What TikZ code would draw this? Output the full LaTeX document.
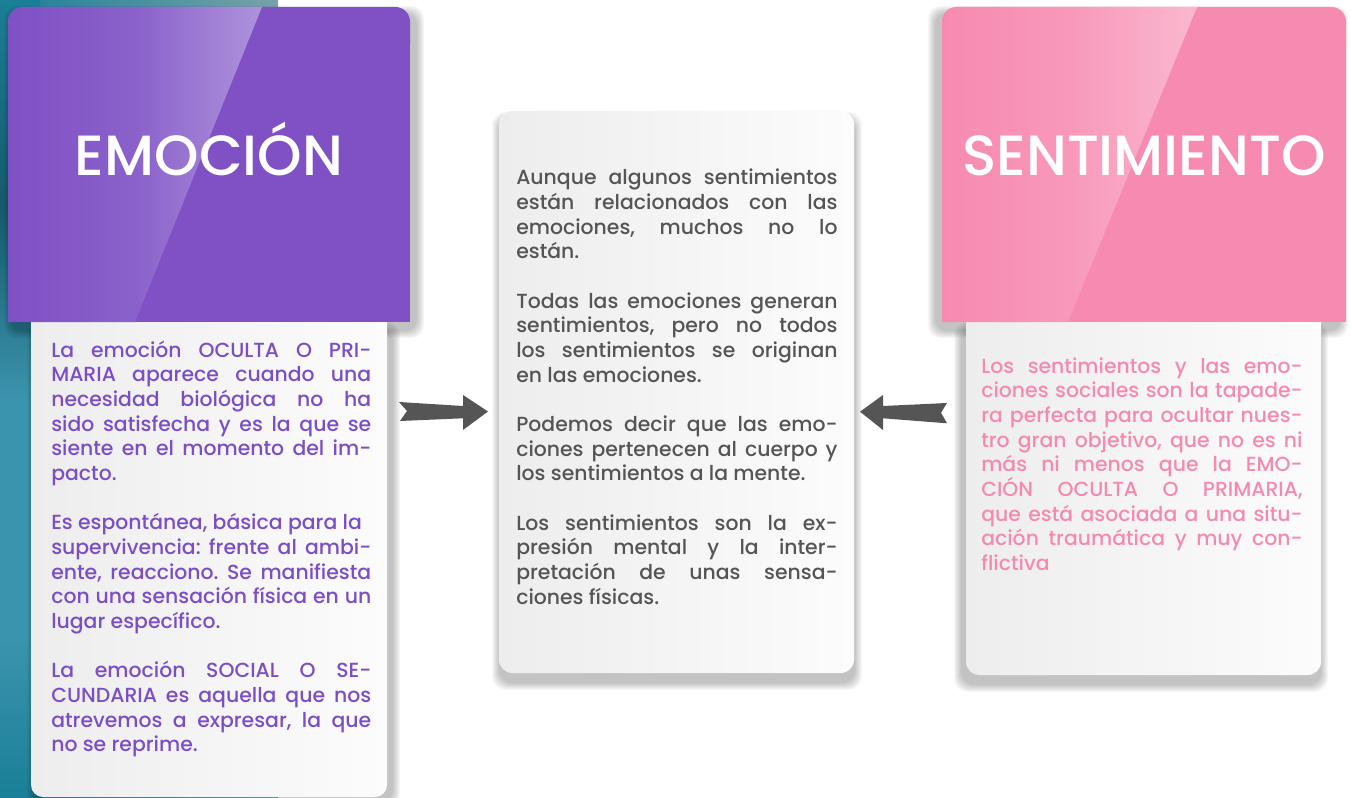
\documentclass[tikz,border=0pt]{standalone}
\usepackage{fontspec}
\setmainfont{Poppins}
\newfontfamily\bodyf{Poppins}[UprightFont={* Medium}]
\newfontfamily\headf{Poppins}[UprightFont={* Medium}]
\usetikzlibrary{calc}
\frenchspacing
\definecolor{hdrP}{HTML}{7F51C5}
\definecolor{hdrPmid}{HTML}{8A61CA}
\definecolor{hdrPl}{HTML}{AE93DC}
\definecolor{hdrK}{HTML}{F78AB0}
\definecolor{hdrKmid}{HTML}{F898BA}
\definecolor{hdrKl}{HTML}{FAB8CF}
\definecolor{txtP}{HTML}{7B4EC6}
\definecolor{txtK}{HTML}{F48AB0}
\definecolor{txtG}{HTML}{555555}
\definecolor{arrC}{HTML}{555555}
\definecolor{boxL}{HTML}{EDEDED}
\definecolor{boxR}{HTML}{FCFCFC}
\definecolor{tealA}{HTML}{1A7F98}
\definecolor{tealB}{HTML}{2A6274}
\definecolor{tealC}{HTML}{78A2A8}
\definecolor{tealD}{HTML}{15596B}
\definecolor{tealE}{HTML}{3B94AE}
\pgfdeclarehorizontalshading{glossP}{100bp}{color(0bp)=(hdrP); color(25bp)=(hdrP); color(50bp)=(hdrPmid); color(75bp)=(hdrPl); color(100bp)=(hdrPl)}
\pgfdeclarehorizontalshading{glossK}{100bp}{color(0bp)=(hdrK); color(25bp)=(hdrK); color(50bp)=(hdrKmid); color(75bp)=(hdrKl); color(100bp)=(hdrKl)}
\pgfdeclareverticalshading{tealV}{100bp}{color(0bp)=(tealA); color(25bp)=(tealA); color(35bp)=(tealE); color(50bp)=(tealE); color(62bp)=(tealD); color(75bp)=(tealA); color(100bp)=(tealA)}
\newcommand\softshadow[5]{%
  \foreach \k in {1,...,8}{%
    \fill[black, opacity=0.03, rounded corners=#5]
      (#1-\k, #2-\k) rectangle (#3+\k, #4+\k);
  }}
\newcommand\JL[1]{\hbox to \hsize{#1}}
\newcommand\LL[1]{\hbox{#1}}
\newcommand\PB{\vskip 18.5pt}
\tikzset{
  bodytxt/.style={inner sep=0pt, anchor=base west, font=\bodyf\fontsize{15.3pt}{18.5pt}\selectfont\frenchspacing},
  hdrtxt/.style={inner sep=0pt, anchor=base, text=white, font=\headf\fontsize{42.5pt}{42.5pt}\selectfont},
  arrowfill/.style={fill=arrC},
}
\begin{document}
\begin{tikzpicture}[x=0.75pt, y=-0.75pt]
\useasboundingbox (0,0) rectangle (1351,798);
\fill[white] (0,0) rectangle (1351,798);
% teal background
\shade[left color=tealA, middle color=tealB, right color=tealC] (0,0) rectangle (278,798);
\shade[shading=tealV] (0,0) rectangle (40,798);

% shadows
\softshadow{12}{14}{416}{330}{9pt}
\softshadow{35}{330}{392}{800}{9pt}
\softshadow{500}{120}{854}{682}{10pt}
\softshadow{936}{14}{1340}{330}{9pt}
\softshadow{962}{330}{1320}{684}{10pt}

% text boxes
\shade[left color=boxL, right color=boxR, rounded corners=9pt] (31,300) rectangle (387,797);
\shade[left color=boxL, right color=boxR, rounded corners=10pt] (499,111) rectangle (854,673);
\shade[left color=boxL, right color=boxR, rounded corners=10pt] (966,300) rectangle (1321,675);

% headers
\fill[hdrP, rounded corners=11pt] (8,7) rectangle (410,60);
\fill[hdrP] (8,40) rectangle (410,322);
\begin{scope}
  \clip[rounded corners=11pt] (8,7) rectangle (410,340);
  \shade[shading=glossP] (8,7) -- (262,7) -- (135,322) -- (8,322) -- cycle;
\end{scope}
\fill[hdrK, rounded corners=11pt] (942,7) rectangle (1346,60);
\fill[hdrK] (942,40) rectangle (1346,322);
\begin{scope}
  \clip[rounded corners=11pt] (942,7) rectangle (1346,340);
  \shade[shading=glossK] (942,7) -- (1197,7) -- (1068,322) -- (942,322) -- cycle;
\end{scope}

\node[hdrtxt] (emoH) at (209,176) {EMOCIÓN};
\node[hdrtxt] (senH) at (1144,176) {SENTIMIENTO};

% left text
\node[bodytxt, text=txtP] (emoT) at (51,357) {\vtop{\hsize=240pt \baselineskip=18.5pt
\JL{La emoción OCULTA O PRI-}
\JL{MARIA aparece cuando una}
\JL{necesidad biológica no ha}
\JL{sido satisfecha y es la que se}
\JL{siente en el momento del im-}
\LL{pacto.}
\PB
\LL{Es espontánea, básica para la}
\JL{supervivencia: frente al ambi-}
\JL{ente, reacciono. Se manifiesta}
\JL{con una sensación física en un}
\LL{lugar específico.}
\PB
\JL{La emoción SOCIAL O SE-}
\JL{CUNDARIA es aquella que nos}
\JL{atrevemos a expresar, la que}
\LL{no se reprime.}
}};

% center text
\node[bodytxt, text=txtG] (midT) at (516,185) {\vtop{\hsize=241pt \baselineskip=18.5pt
\JL{Aunque algunos sentimientos}
\JL{están relacionados con las}
\JL{emociones, muchos no lo}
\LL{están.}
\PB
\JL{Todas las emociones generan}
\JL{sentimientos, pero no todos}
\JL{los sentimientos se originan}
\LL{en las emociones.}
\PB
\JL{Podemos decir que las emo-}
\JL{ciones pertenecen al cuerpo y}
\LL{los sentimientos a la mente.}
\PB
\JL{Los sentimientos son la ex-}
\JL{presión mental y la inter-}
\JL{pretación de unas sensa-}
\LL{ciones físicas.}
}};

% right text
\node[bodytxt, text=txtK] (senT) at (981,373) {\vtop{\hsize=241pt \baselineskip=18.5pt
\JL{Los sentimientos y las emo-}
\JL{ciones sociales son la tapade-}
\JL{ra perfecta para ocultar nues-}
\JL{tro gran objetivo, que no es ni}
\JL{más ni menos que la EMO-}
\JL{CIÓN OCULTA O PRIMARIA,}
\JL{que está asociada a una situ-}
\JL{ación traumática y muy con-}
\LL{flictiva}
}};

% arrows
\coordinate (aL) at (400,411);
\coordinate (aR) at (947,411);
\fill[arrowfill] ($(aL)+(-1,-9)$) -- ($(aL)+(63,-5)$) -- ($(aL)+(63,-16)$) -- ($(aL)+(88,0.5)$)
  -- ($(aL)+(63,19)$) -- ($(aL)+(63,7.3)$) -- ($(aL)+(0,10)$) -- ($(aL)+(7,0)$) -- cycle;
\fill[arrowfill] ($(aR)+(0,-8)$) -- ($(aR)+(-64,-5)$) -- ($(aR)+(-64,-16)$) -- ($(aR)+(-87,0.7)$)
  -- ($(aR)+(-64,19)$) -- ($(aR)+(-64,7.3)$) -- ($(aR)+(0,12.3)$) -- ($(aR)+(-6,1.7)$) -- cycle;
\end{tikzpicture}
\end{document}
